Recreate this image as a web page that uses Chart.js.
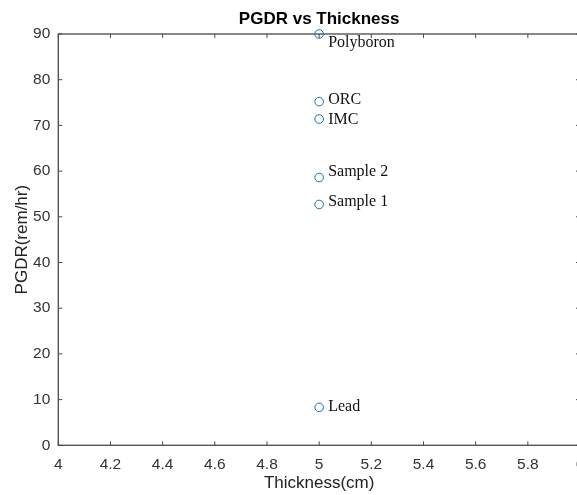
<!DOCTYPE html>
<html>
<head>
<meta charset="utf-8">
<script src="https://cdn.jsdelivr.net/npm/chart.js@4.4.1/dist/chart.umd.min.js"></script>
<style>
  html, body { margin: 0; padding: 0; overflow: hidden; background: #fff; }
  #grafico { display: block; }
</style>
</head>
<body>
<canvas id="grafico" width="577" height="495"></canvas>
<script>
// dados
const materials = ['Lead', 'Sample 1', 'Sample 2', 'IMC', 'ORC', 'Polyboron'];
const thickness = [5, 5, 5, 5, 5, 5];
const pgdr = [8.3, 52.7, 58.6, 71.4, 75.2, 90];

const xMin = 4, xMax = 6, xStep = 0.2;
const yMin = 0, yMax = 90, yStep = 10;

const axisColor = '#4a4a4a';
const sansFont = "'Liberation Sans', Arial, sans-serif";

// deslocamento (px) de cada rótulo de texto em relação ao ponto
const labelDy = [-1, -3, -6, 1, -2, 9];

// o eixo direito fica um pouco fora da imagem, como no original
const plotRight = 580;

const boxPlugin = {
  id: 'box',
  afterLayout(chart) {
    const x = chart.scales.x;
    x.right = plotRight;
    x.width = x.right - x.left;
    x.configure();
    chart.chartArea.right = plotRight;
    chart.chartArea.width = plotRight - chart.chartArea.left;
    const t = chart.titleBlock;
    if (t) { t.right = plotRight; t.width = t.right - t.left; }
  },
  // caixa dos eixos com ticks para dentro (estilo MATLAB)
  beforeDatasetsDraw(chart) {
    const { ctx, chartArea: a, scales } = chart;
    const tl = 4;
    ctx.save();
    ctx.strokeStyle = axisColor;
    ctx.lineWidth = 1.3;
    ctx.strokeRect(a.left, a.top, a.right - a.left, a.bottom - a.top);
    ctx.lineWidth = 1;
    ctx.beginPath();
    scales.x.ticks.forEach(t => {
      const px = scales.x.getPixelForValue(t.value);
      ctx.moveTo(px, a.bottom); ctx.lineTo(px, a.bottom - tl);
      ctx.moveTo(px, a.top); ctx.lineTo(px, a.top + tl);
    });
    scales.y.ticks.forEach(t => {
      const py = scales.y.getPixelForValue(t.value);
      ctx.moveTo(a.left, py); ctx.lineTo(a.left + tl, py);
      ctx.moveTo(a.right, py); ctx.lineTo(a.right - tl, py);
    });
    ctx.stroke();
    ctx.restore();
  },
  afterDatasetsDraw(chart) {
    const { ctx } = chart;
    const pts = chart.getDatasetMeta(0).data;
    ctx.save();
    ctx.fillStyle = '#111';
    ctx.font = "16px 'Liberation Serif', 'Times New Roman', serif";
    ctx.textBaseline = 'middle';
    ctx.textAlign = 'left';
    pts.forEach((p, i) => {
      ctx.fillText(materials[i], p.x + 9, p.y + labelDy[i]);
    });
    ctx.restore();
  }
};

const config = {
  type: 'scatter',
  data: {
    datasets: [{
      label: 'PGDR',
      data: thickness.map((x, i) => ({ x: x, y: pgdr[i] })),
      pointStyle: 'circle',
      pointRadius: 4.3,
      pointHoverRadius: 4.3,
      borderColor: '#1a6fa8',
      backgroundColor: 'rgba(0,0,0,0)',
      borderWidth: 1,
      clip: false
    }]
  },
  options: {
    responsive: false,
    animation: false,
    plugins: {
      legend: { display: false },
      tooltip: { enabled: false },
      title: {
        display: true,
        text: 'PGDR vs Thickness',
        fullSize: false,
        color: '#000',
        font: { family: sansFont, size: 17, weight: 'bold' },
        padding: { top: 9, bottom: 4.6 }
      }
    },
    scales: {
      x: {
        type: 'linear',
        min: xMin,
        max: xMax,
        grid: { display: false, drawTicks: false },
        border: { display: false },
        ticks: {
          stepSize: xStep,
          padding: 10,
          color: '#333',
          font: { family: sansFont, size: 15.5 },
          maxRotation: 0,
          autoSkip: false,
          callback: v => String(Number(v.toFixed(1)))
        },
        title: {
          display: true,
          text: 'Thickness(cm)',
          color: '#222',
          font: { family: sansFont, size: 17 },
          padding: { top: 0, bottom: 1 }
        },
        afterFit: s => { s.height = 49.7; }
      },
      y: {
        type: 'linear',
        min: yMin,
        max: yMax,
        grid: { display: false, drawTicks: false },
        border: { display: false },
        ticks: {
          stepSize: yStep,
          padding: 8,
          color: '#333',
          font: { family: sansFont, size: 15.5 }
        },
        title: {
          display: true,
          text: 'PGDR(rem/hr)',
          color: '#222',
          font: { family: sansFont, size: 17 },
          padding: { top: 12, bottom: 0 }
        },
        afterFit: s => { s.width = 58.3; }
      }
    }
  },
  plugins: [boxPlugin]
};

new Chart(document.getElementById('grafico').getContext('2d'), config);
</script>
</body>
</html>
